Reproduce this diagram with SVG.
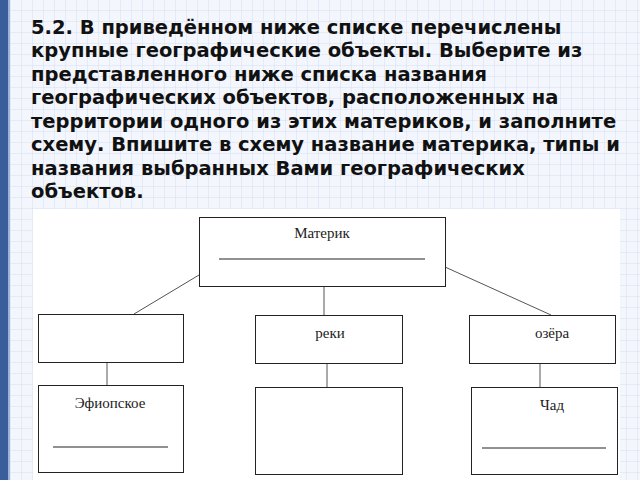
<svg xmlns="http://www.w3.org/2000/svg" width="640" height="480" viewBox="0 0 640 480">
<defs>
<pattern id="grid" width="11" height="11" patternUnits="userSpaceOnUse">
<rect width="11" height="11" fill="#f3f6fc"/>
<path d="M11 0V11M0 11H11" stroke="#d5def0" stroke-width="1" fill="none"/>
</pattern>
</defs>
<style>
.q{font-family:"DejaVu Sans",sans-serif;font-weight:bold;font-size:19.5px;fill:#111}
.b{fill:#fff;stroke:#222;stroke-width:1}
.t{font-family:"Liberation Serif",serif;font-size:15px;fill:#222;text-anchor:middle}
.u{stroke:#222;stroke-width:1}
.c{stroke:#555;stroke-width:1;fill:none}
</style>
<rect width="640" height="480" fill="url(#grid)"/>
<rect x="0" y="0" width="8" height="480" fill="#3a5e9c"/>
<rect x="8" y="0" width="2" height="480" fill="#9db3d8"/>
<g id="question">
<text class="q" x="31" y="34">5.2. В приведённом ниже списке перечислены</text>
<text class="q" x="31" y="57">крупные географические объекты. Выберите из</text>
<text class="q" x="31" y="81">представленного ниже списка названия</text>
<text class="q" x="31" y="104">географических объектов, расположенных на</text>
<text class="q" x="31" y="128">территории одного из этих материков, и заполните</text>
<text class="q" x="31" y="151">схему. Впишите в схему название материка, типы и</text>
<text class="q" x="31" y="175">названия выбранных Вами географических</text>
<text class="q" x="31" y="198">объектов.</text>
</g>
<rect x="33" y="209" width="587" height="271" fill="#fff"/>
<g id="connectors">
<line class="c" x1="199" y1="275" x2="134" y2="314"/>
<line class="c" x1="445" y1="267" x2="551" y2="315"/>
<line class="c" x1="324" y1="286" x2="324" y2="315"/>
<line class="c" x1="107" y1="362" x2="107" y2="385"/>
<line class="c" x1="327" y1="363" x2="327" y2="387"/>
<line class="c" x1="540" y1="363" x2="540" y2="387"/>
</g>
<g id="materik"><rect class="b" x="199.5" y="217.5" width="246" height="69"/><text class="t" x="322" y="238">Материк</text><line class="u" x1="219" y1="259" x2="425" y2="259" stroke-width="1.5"/></g>
<g id="left"><rect class="b" x="38.5" y="314.5" width="145" height="48"/></g>
<g id="efiop"><rect class="b" x="38.5" y="385.5" width="145" height="87"/><text class="t" x="110" y="408">Эфиопское</text><line class="u" x1="53" y1="447" x2="168" y2="447"/></g>
<g id="reki"><rect class="b" x="255.5" y="315.5" width="147" height="48"/><text class="t" x="330" y="338">реки</text></g>
<g id="reki-b"><rect class="b" x="255.5" y="387.5" width="147" height="87"/></g>
<g id="ozera"><rect class="b" x="469.5" y="315.5" width="146" height="48"/><text class="t" x="552" y="338">озёра</text></g>
<g id="chad"><rect class="b" x="471.5" y="387.5" width="146" height="87"/><text class="t" x="552" y="410">Чад</text><line class="u" x1="482" y1="448" x2="606" y2="448"/></g>
</svg>
